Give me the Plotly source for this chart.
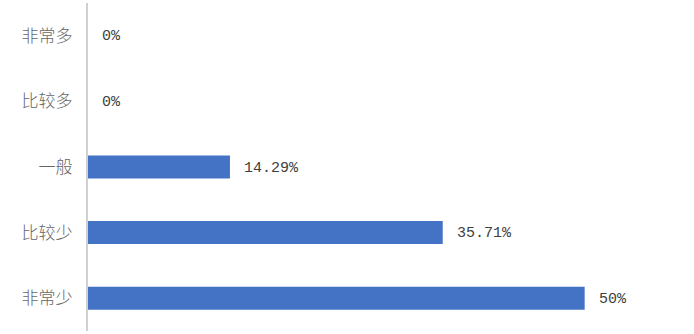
import plotly.graph_objects as go

categories = ["非常多", "比较多", "一般", "比较少", "非常少"]
values = [0, 0, 14.29, 35.71, 50]
labels = ["0%", "0%", "14.29%", "35.71%", "50%"]

fig = go.Figure()
fig.add_trace(go.Bar(
    y=categories, x=values, orientation="h",
    marker=dict(color="#4472C4", line=dict(width=0)),
    width=0.35,
    hoverinfo="skip",
))

for c, v, t in zip(categories, values, labels):
    fig.add_annotation(
        x=v, y=c, text=t, showarrow=False, xanchor="left", yanchor="middle",
        xshift=12, yshift=-1, font=dict(family="Liberation Mono", size=15, color="#404040"),
    )

fig.update_layout(
    width=694, height=334,
    margin=dict(l=88, r=10, t=3, b=3),
    plot_bgcolor="white", paper_bgcolor="white",
    showlegend=False,
    xaxis=dict(range=[0, 60], showgrid=False, zeroline=False, showticklabels=False,
               showline=False, fixedrange=True),
    yaxis=dict(autorange="reversed", showgrid=False, zeroline=False,
               showline=True, linecolor="#d0d0d0", linewidth=2,
               ticks="", ticklabelstandoff=10,
               tickfont=dict(family="Noto Sans CJK SC Light, Noto Sans CJK SC", size=17, color="#666666"),
               fixedrange=True),
)

fig.write_html("out.html")
